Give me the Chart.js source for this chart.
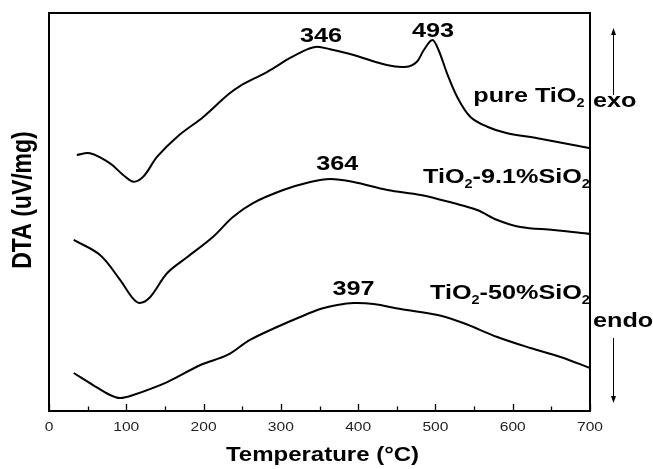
<!DOCTYPE html>
<html>
<head>
<meta charset="utf-8">
<script src="https://cdn.jsdelivr.net/npm/chart.js@4.4.1/dist/chart.umd.min.js"></script>
<style>
  html, body { margin: 0; padding: 0; background: #fff; }
  #zone { width: 653px; height: 469px; }
</style>
</head>
<body>
<div id="zone"><canvas id="dta" width="653" height="469"></canvas></div>
<script>
// graduations de l'axe des températures
var graduations        = [0, 100, 200, 300, 400, 500, 600, 700];
var graduationsMinimes = [50, 150, 250, 350, 450, 550, 650];

// pure TiO2
var pureT = [36, 53, 79, 96, 109, 122, 140, 166, 200, 231, 247, 282, 312, 334, 347, 364,
             394, 437, 463, 476, 485, 496, 504, 515, 528, 545, 567, 593, 632, 700];
var pureV = [25.73, 25.9, 24.89, 23.72, 23.05, 23.55, 25.56, 27.57, 29.58, 31.76, 32.66, 34.07, 35.48, 36.35, 36.61, 36.35,
             35.78, 34.77, 34.6, 35.1, 36.28, 37.29, 36.28, 33.94, 31.59, 29.58, 28.57, 27.91, 27.41, 26.4];

// TiO2-9.1%SiO2
var si9T = [32, 66, 92, 108, 117, 131, 153, 179, 212, 238, 264, 303, 338, 364, 394, 438, 481, 523, 554, 580, 610, 653, 700];
var si9V = [17.19, 15.68, 13.17, 11.36, 10.85, 11.46, 13.87, 15.48, 17.49, 19.5, 20.9, 22.21, 23.02, 23.32, 23.02, 22.21,
            21.71, 20.9, 20.2, 19.2, 18.49, 18.19, 17.79];

// TiO2-50%SiO2
var si50T = [32, 57, 79, 92, 109, 153, 196, 231, 260, 295, 325, 351, 373, 394, 420, 455, 503, 536, 580, 623, 662, 700];
var si50V = [3.82, 2.61, 1.61, 1.31, 1.61, 2.91, 4.62, 5.63, 7.14, 8.44, 9.45, 10.25, 10.65, 10.85, 10.75, 10.25,
             9.65, 8.84, 7.44, 6.33, 5.43, 4.32];

// étiquettes posées sur le graphique (température, DTA, alignement)
var etiquettes = [
  { morceaux: [["346"]], t: 352, v: 37.09, aligne: "center" },
  { morceaux: [["493"]], t: 497, v: 37.59, aligne: "center" },
  { morceaux: [["pure TiO"], ["2", true]], t: 549, v: 31.06, aligne: "left" },
  { morceaux: [["364"]], t: 373, v: 24.22, aligne: "center" },
  { morceaux: [["TiO"], ["2", true], ["-9.1%SiO"], ["2", true]], t: 484, v: 22.91, aligne: "left" },
  { morceaux: [["397"]], t: 394, v: 11.66, aligne: "center" },
  { morceaux: [["TiO"], ["2", true], ["-50%SiO"], ["2", true]], t: 493, v: 11.26, aligne: "left" }
];

var ETIRE = 1.2;
var POLICE = "'Liberation Sans', Arial, sans-serif";

function points(ts, vs) {
  return ts.map(function(t, i) { return { x: t, y: vs[i] }; });
}

function texte(ctx, str, x, y, font, aligne) {
  ctx.save();
  ctx.font = font;
  ctx.textAlign = aligne;
  ctx.textBaseline = "alphabetic";
  ctx.translate(x, y);
  ctx.scale(ETIRE, 1);
  ctx.fillText(str, 0, 0);
  ctx.restore();
}

function texteRiche(ctx, morceaux, x, y, aligne) {
  var grand = "bold 21px " + POLICE;
  var petit = "bold 12px " + POLICE;
  ctx.save();
  ctx.textBaseline = "alphabetic";
  ctx.textAlign = "left";
  var total = 0;
  morceaux.forEach(function(m) {
    ctx.font = m[1] ? petit : grand;
    total += ctx.measureText(m[0]).width;
  });
  ctx.translate(x, y);
  ctx.scale(ETIRE, 1);
  var cx = aligne === "center" ? -total / 2 : 0;
  morceaux.forEach(function(m) {
    ctx.font = m[1] ? petit : grand;
    ctx.fillText(m[0], cx, m[1] ? 5 : 0);
    cx += ctx.measureText(m[0]).width;
  });
  ctx.restore();
}

function fleche(ctx, x, y1, y2) {
  var sens = y2 < y1 ? -1 : 1;
  ctx.beginPath();
  ctx.moveTo(x, y1);
  ctx.lineTo(x, y2 - sens * 5);
  ctx.stroke();
  ctx.beginPath();
  ctx.moveTo(x, y2);
  ctx.lineTo(x - 2.5, y2 - sens * 7);
  ctx.lineTo(x + 2.5, y2 - sens * 7);
  ctx.closePath();
  ctx.fill();
}

var decor = {
  id: "decor",
  afterDraw: function(chart) {
    var ctx = chart.ctx;
    var a = chart.chartArea;
    var sx = chart.scales.x;
    var sy = chart.scales.y;
    ctx.save();
    ctx.strokeStyle = "#000";
    ctx.fillStyle = "#000";

    // cadre haut et droit
    ctx.lineWidth = 2;
    ctx.beginPath();
    ctx.moveTo(a.left, a.top);
    ctx.lineTo(a.right, a.top);
    ctx.lineTo(a.right, a.bottom);
    ctx.stroke();

    // graduations vers l'intérieur
    ctx.lineWidth = 1.3;
    graduations.forEach(function(g) {
      var px = Math.round(sx.getPixelForValue(g)) + 0.5;
      ctx.beginPath();
      ctx.moveTo(px, a.bottom);
      ctx.lineTo(px, a.bottom - 7);
      ctx.stroke();
    });
    graduationsMinimes.forEach(function(g) {
      var px = Math.round(sx.getPixelForValue(g)) + 0.5;
      ctx.beginPath();
      ctx.moveTo(px, a.bottom);
      ctx.lineTo(px, a.bottom - 4.5);
      ctx.stroke();
    });

    // libellés de l'axe
    ctx.fillStyle = "#222";
    graduations.forEach(function(g) {
      texte(ctx, String(g), sx.getPixelForValue(g), a.bottom + 20, "13px " + POLICE, "center");
    });
    ctx.fillStyle = "#000";

    // titres
    texte(ctx, "Temperature (\u00B0C)", (a.left + a.right) / 2 + 3, a.bottom + 50, "bold 20px " + POLICE, "center");
    ctx.save();
    ctx.translate(a.left - 26, (a.top + a.bottom) / 2 - 12);
    ctx.rotate(-Math.PI / 2);
    ctx.scale(1, ETIRE);
    ctx.font = "bold 23px " + POLICE;
    ctx.textAlign = "center";
    ctx.textBaseline = "middle";
    ctx.fillText("DTA (uV/mg)", 0, 0);
    ctx.restore();

    // étiquettes des courbes
    etiquettes.forEach(function(e) {
      texteRiche(ctx, e.morceaux, sx.getPixelForValue(e.t), sy.getPixelForValue(e.v), e.aligne);
    });

    // exo / endo
    texteRiche(ctx, [["exo"]], a.right + 3, sy.getPixelForValue(30.55), "left");
    texteRiche(ctx, [["endo"]], a.right + 3, sy.getPixelForValue(8.44), "left");
    ctx.lineWidth = 1;
    fleche(ctx, a.right + 23.5, sy.getPixelForValue(31.76), sy.getPixelForValue(38.49));
    fleche(ctx, a.right + 23.5, sy.getPixelForValue(7.34), sy.getPixelForValue(0.8));

    ctx.restore();
  }
};

function serie(ts, vs) {
  return {
    data: points(ts, vs),
    borderColor: "#000",
    borderWidth: 2,
    fill: false,
    pointRadius: 0,
    tension: 0.35
  };
}

new Chart(document.getElementById("dta"), {
  type: "line",
  data: {
    datasets: [
      serie(pureT, pureV),
      serie(si9T, si9V),
      serie(si50T, si50V)
    ]
  },
  options: {
    responsive: false,
    animation: false,
    layout: { padding: { top: 13, right: 63, left: 0, bottom: 0 } },
    plugins: {
      legend: { display: false },
      tooltip: { enabled: false }
    },
    scales: {
      x: {
        type: "linear",
        min: 0,
        max: 700,
        ticks: { display: false },
        grid: { display: false },
        border: { color: "#000", width: 2 },
        afterFit: function(s) { s.height = 58; }
      },
      y: {
        type: "linear",
        min: 0,
        max: 40,
        ticks: { display: false },
        grid: { display: false },
        border: { color: "#000", width: 2 },
        afterFit: function(s) { s.width = 49; }
      }
    }
  },
  plugins: [decor]
});
</script>
</body>
</html>
